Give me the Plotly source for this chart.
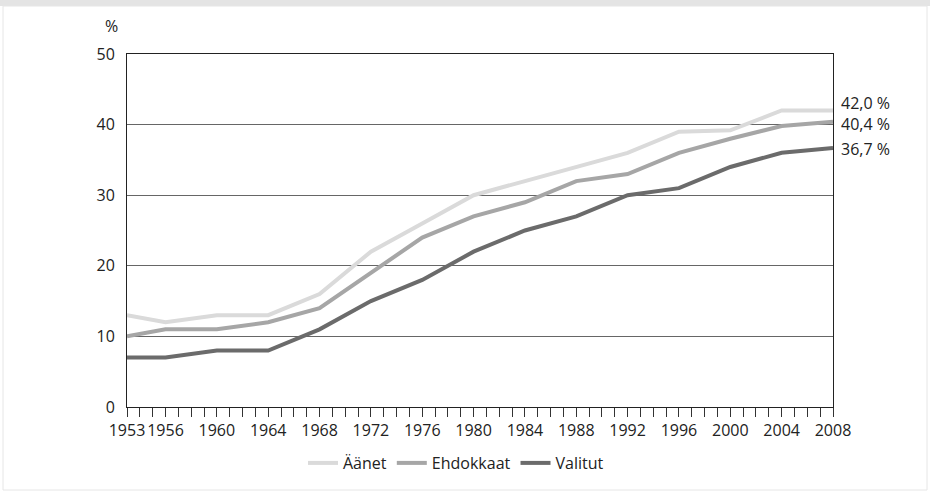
import plotly.graph_objects as go

years = [1953, 1956, 1960, 1964, 1968, 1972, 1976, 1980, 1984, 1988, 1992, 1996, 2000, 2004, 2008]
label_years = [1953, 1956, 1960, 1964, 1968, 1972, 1976, 1980, 1984, 1988, 1992, 1996, 2000, 2004, 2008]
aanet = [13, 12, 13, 13, 16, 22, 26, 30, 32, 34, 36, 39, 39.2, 42, 42.0]
ehdokkaat = [10, 11, 11, 12, 14, 19, 24, 27, 29, 32, 33, 36, 38, 39.8, 40.4]
valitut = [7, 7, 8, 8, 11, 15, 18, 22, 25, 27, 30, 31, 34, 36, 36.7]
end_labels = ["42,0 %", "40,4 %", "36,7 %"]
end_shifts = [7, -2, -1]

names = ["Äänet", "Ehdokkaat", "Valitut"]
series = [aanet, ehdokkaat, valitut]
colors = ["#dadada", "#a6a6a6", "#6b6b6b"]

FONT = "Open Sans, Noto Sans, sans-serif"
FS = 16

W, H = 930, 494
ML, MR, MT, MB = 127, 97, 54, 87
PW, PH = W - ML - MR, H - MT - MB

def px2x(px):
    return (px - ML) / PW

def py2y(py):
    return (H - MB - py) / PH

fig = go.Figure()
for n, s, c in zip(names, series, colors):
    fig.add_trace(go.Scatter(x=years, y=s, name=n, mode="lines",
                             line=dict(color=c, width=4)))

annotations = []
for s, lab, sh in zip(series, end_labels, end_shifts):
    annotations.append(dict(x=years[-1], y=s[-1], xref="x", yref="y", text=lab,
                            showarrow=False, xanchor="left", yanchor="middle",
                            xshift=6, yshift=sh,
                            font=dict(family=FONT, size=FS, color="#222")))
annotations.append(dict(x=px2x(111), y=py2y(26), xref="paper", yref="paper", text="%",
                        showarrow=False, xanchor="center", yanchor="middle",
                        font=dict(family=FONT, size=FS, color="#222")))

shapes = [
    dict(type="rect", xref="paper", yref="paper", x0=px2x(0), x1=px2x(930),
         y0=py2y(0), y1=py2y(6), fillcolor="#e4e4e4", line=dict(width=0), layer="below"),
    dict(type="rect", xref="paper", yref="paper", x0=px2x(3), x1=px2x(927),
         y0=py2y(6), y1=py2y(490), line=dict(color="#e6e6e6", width=1), layer="below"),
]

fig.update_layout(
    width=W, height=H,
    margin=dict(l=ML, r=MR, t=MT, b=MB),
    paper_bgcolor="white", plot_bgcolor="white",
    font=dict(family=FONT, size=FS, color="#222"),
    showlegend=True,
    legend=dict(orientation="h", x=px2x(456), y=py2y(463), xanchor="center", yanchor="middle",
                font=dict(family=FONT, size=FS, color="#222"), itemwidth=30, tracegroupgap=0),
    annotations=annotations,
    shapes=shapes,
)
fig.update_xaxes(range=[years[0], years[-1]], tickvals=label_years, tickangle=0,
                 ticks="outside", ticklen=9, tickcolor="#333", tickwidth=1,
                 minor=dict(dtick=1, tick0=years[0], ticks="outside", ticklen=9, tickcolor="#333", tickwidth=1, showgrid=False),
                 showgrid=False, showline=True, linecolor="#222", linewidth=1, mirror=True,
                 zeroline=False, tickfont=dict(family=FONT, size=FS, color="#222"))
fig.update_yaxes(range=[0, 50], dtick=10, showgrid=True, gridcolor="#666", gridwidth=1,
                 showline=True, linecolor="#222", linewidth=1, mirror=True, zeroline=False,
                 ticks="", ticklabelstandoff=8, tickfont=dict(family=FONT, size=FS, color="#222"))

fig.write_html("out.html", config={"displayModeBar": False},
               post_script="document.body.style.margin='0';document.body.style.overflow='hidden';")
